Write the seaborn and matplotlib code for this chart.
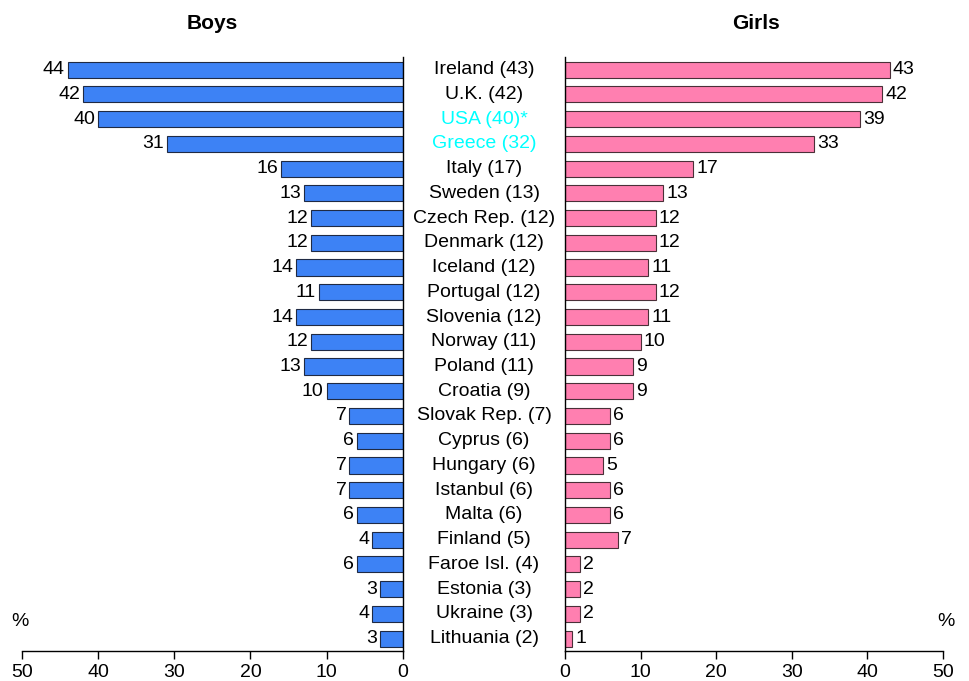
import pandas as pd
import matplotlib
matplotlib.use("Agg")
import matplotlib.pyplot as plt
import matplotlib.transforms as mtransforms
import seaborn as sns

countries = ["Ireland (43)", "U.K. (42)", "USA (40)*", "Greece (32)", "Italy (17)",
             "Sweden (13)", "Czech Rep. (12)", "Denmark (12)", "Iceland (12)",
             "Portugal (12)", "Slovenia (12)", "Norway (11)", "Poland (11)",
             "Croatia (9)", "Slovak Rep. (7)", "Cyprus (6)", "Hungary (6)",
             "Istanbul (6)", "Malta (6)", "Finland (5)", "Faroe Isl. (4)",
             "Estonia (3)", "Ukraine (3)", "Lithuania (2)"]
boys = [44, 42, 40, 31, 16, 13, 12, 12, 14, 11, 14, 12, 13, 10, 7, 6, 7, 7, 6, 4, 6, 3, 4, 3]
girls = [43, 42, 39, 33, 17, 13, 12, 12, 11, 12, 11, 10, 9, 9, 6, 6, 5, 6, 6, 7, 2, 2, 2, 1]
highlight = ["USA (40)*", "Greece (32)"]
ticks = [0, 10, 20, 30, 40, 50]

df = pd.DataFrame({"country": countries, "boys": boys, "girls": girls})

sns.set_style("white")
plt.rcParams["font.family"] = ["Liberation Sans", "DejaVu Sans"]
plt.rcParams["text.color"] = "black"
plt.rcParams["xtick.color"] = "black"
plt.rcParams["xtick.labelcolor"] = "black"

fig = plt.figure(figsize=(9.69, 6.81), dpi=100)
ax_b = fig.add_axes([0.0227, 0.044, 0.393, 0.872])
ax_g = fig.add_axes([0.583, 0.044, 0.390, 0.872])

fs = 14

# Boys panel (reversed axis)
sns.barplot(data=df, x="boys", y="country", orient="h", ax=ax_b, color="#3D82F5",
            saturation=1, width=0.65, edgecolor="#1F2A44", linewidth=0.8)
ax_b.set_xlim(50, 0)
for i, v in enumerate(df["boys"]):
    ax_b.text(v + 0.4, i, str(v), ha="right", va="center", fontsize=fs, color="black")

# Girls panel
sns.barplot(data=df, x="girls", y="country", orient="h", ax=ax_g, color="#FF7FB0",
            saturation=1, width=0.65, edgecolor="#4A3038", linewidth=0.8)
ax_g.set_xlim(0, 50)
for i, v in enumerate(df["girls"]):
    ax_g.text(v + 0.4, i, str(v), ha="left", va="center", fontsize=fs, color="black")

for ax in (ax_b, ax_g):
    ax.set_ylim(23.5, -0.5)
    ax.set_xticks(ticks)
    ax.set_yticks([])
    ax.set_xlabel("")
    ax.set_ylabel("")
    ax.tick_params(axis="x", direction="out", length=6, width=1, labelsize=fs,
                   bottom=True, color="black", labelcolor="black")
    ax.spines["top"].set_visible(False)
    for s in ax.spines.values():
        s.set_color("black")
        s.set_linewidth(1)

ax_b.spines["left"].set_visible(False)
ax_g.spines["right"].set_visible(False)

# country labels in the middle
trans = mtransforms.blended_transform_factory(fig.transFigure, ax_b.transData)
for i, name in enumerate(countries):
    col = "#00FFFF" if name in highlight else "black"
    fig.text(0.4995, i, name, transform=trans, ha="center", va="center",
             fontsize=fs, color=col)

fig.text(0.219, 0.966, "Boys", ha="center", va="center", fontsize=15,
         fontweight="bold", color="black")
fig.text(0.780, 0.966, "Girls", ha="center", va="center", fontsize=15,
         fontweight="bold", color="black")
fig.text(0.021, 0.088, "%", ha="center", va="center", fontsize=fs, color="black")
fig.text(0.976, 0.088, "%", ha="center", va="center", fontsize=fs, color="black")

fig.savefig("out.png", dpi=100)
